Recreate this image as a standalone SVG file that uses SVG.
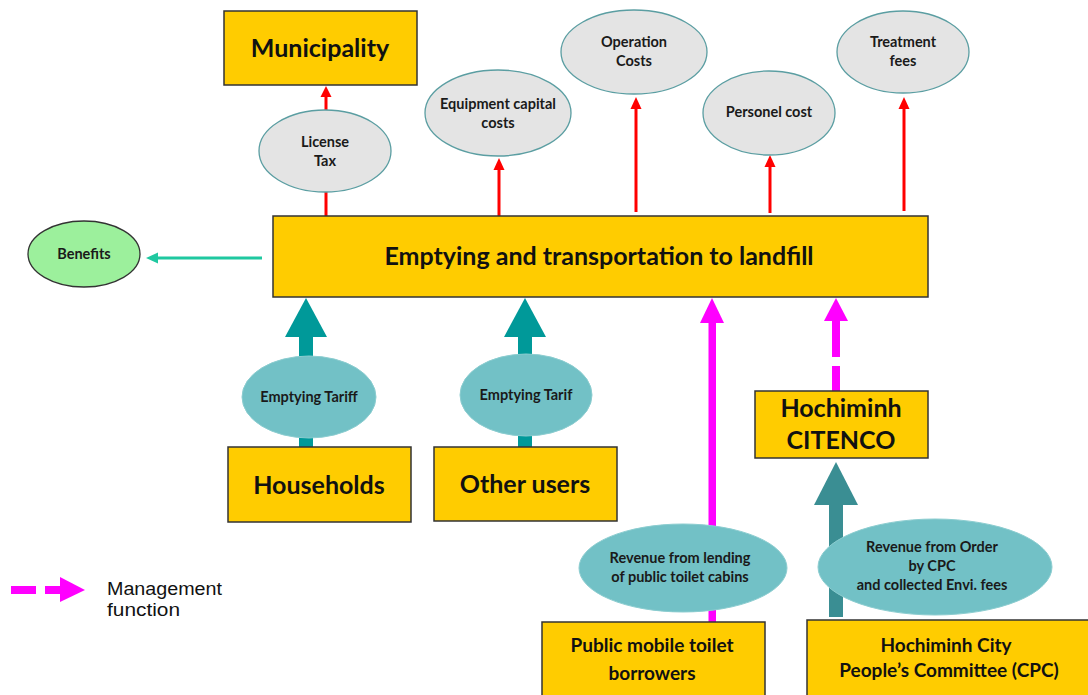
<svg xmlns="http://www.w3.org/2000/svg" width="1088" height="695" viewBox="0 0 1088 695">
  <style>
    .box { fill: #FFCC00; stroke: #333333; stroke-width: 1.5; }
    .cost { fill: #E4E4E4; stroke: #5B9EA2; stroke-width: 1.3; }
    .tariff { fill: #72C1C6; stroke: #8CCDD0; stroke-width: 1; }
    .benefit { fill: #9CF09C; stroke: #333333; stroke-width: 1.3; }
    .big { font-family: Lato, "Open Sans", sans-serif; font-weight: bold; font-size: 25px; fill: #111111; text-anchor: middle; }
    .mid { font-family: Lato, "Open Sans", sans-serif; font-weight: bold; font-size: 19px; fill: #111111; text-anchor: middle; }
    .small { font-family: Lato, "Open Sans", sans-serif; font-weight: bold; font-size: 14.5px; fill: #1A1A1A; text-anchor: middle; }
    .red { stroke: #FF0000; stroke-width: 3; fill: none; }
    .redhead { fill: #FF0000; }
    .legend { font-family: "Liberation Sans", Arial, sans-serif; font-size: 17.5px; fill: #111111; }
  </style>

  <!-- connectors -->
  <g id="connectors">
    <!-- red cost flows -->
    <line class="red" x1="326" y1="216" x2="326" y2="192"/>
    <line class="red" x1="326" y1="110" x2="326" y2="96"/>
    <polygon class="redhead" points="326,86 320.5,97 331.5,97"/>
    <line class="red" x1="499" y1="216" x2="499" y2="169"/>
    <polygon class="redhead" points="499,158 493.5,170 504.5,170"/>
    <line class="red" x1="636" y1="212" x2="636" y2="108"/>
    <polygon class="redhead" points="636,97 630.5,109 641.5,109"/>
    <line class="red" x1="770" y1="213" x2="770" y2="166"/>
    <polygon class="redhead" points="770,155 764.5,167 775.5,167"/>
    <line class="red" x1="904" y1="211" x2="904" y2="108"/>
    <polygon class="redhead" points="904,97 898.5,109 909.5,109"/>

    <!-- benefits -->
    <line x1="262" y1="258" x2="156" y2="258" stroke="#1FC8A0" stroke-width="3"/>
    <polygon points="146,258 158,252.5 158,263.5" fill="#1FC8A0"/>

    <!-- tariff flows (thick teal arrows) -->
    <rect x="299" y="336" width="14" height="112" fill="#009999"/>
    <polygon points="306,298 285,337 327,337" fill="#009999"/>
    <rect x="518" y="336" width="14" height="112" fill="#009999"/>
    <polygon points="525,298 504,337 546,337" fill="#009999"/>

    <!-- public toilet revenue -->
    <rect x="708.5" y="322" width="7.5" height="301" fill="#FF00FF"/>
    <polygon points="712,298 700,323 724,323" fill="#FF00FF"/>

    <!-- management function (dashed) -->
    <polygon points="836,298 824,321 848,321" fill="#FF00FF"/>
    <rect x="832" y="320" width="8" height="37" fill="#FF00FF"/>
    <rect x="832" y="366" width="8" height="25" fill="#FF00FF"/>

    <!-- CPC order revenue -->
    <rect x="829" y="504" width="14" height="113" fill="#3A8E93"/>
    <polygon points="836,462 814,505 858,505" fill="#3A8E93"/>
  </g>

  <!-- nodes -->
  <g id="municipality">
    <rect class="box" x="224" y="11" width="193" height="74"/>
    <text class="big" x="320" y="57">Municipality</text>
  </g>
  <g id="license-tax">
    <ellipse class="cost" cx="325" cy="151" rx="66" ry="41"/>
    <text class="small" x="325" y="147">License</text>
    <text class="small" x="325" y="166">Tax</text>
  </g>
  <g id="equipment">
    <ellipse class="cost" cx="498" cy="113" rx="73" ry="43"/>
    <text class="small" x="498" y="109">Equipment capital</text>
    <text class="small" x="498" y="128">costs</text>
  </g>
  <g id="operation">
    <ellipse class="cost" cx="634" cy="52" rx="73" ry="42"/>
    <text class="small" x="634" y="47">Operation</text>
    <text class="small" x="634" y="66">Costs</text>
  </g>
  <g id="personel">
    <ellipse class="cost" cx="769" cy="113" rx="66" ry="42"/>
    <text class="small" x="769" y="117">Personel cost</text>
  </g>
  <g id="treatment">
    <ellipse class="cost" cx="903" cy="52" rx="66" ry="41"/>
    <text class="small" x="903" y="47">Treatment</text>
    <text class="small" x="903" y="66">fees</text>
  </g>
  <g id="benefits">
    <ellipse class="benefit" cx="84" cy="254" rx="56" ry="33"/>
    <text class="small" x="84" y="259">Benefits</text>
  </g>
  <g id="emptying">
    <rect class="box" x="273" y="216" width="655" height="81"/>
    <text class="big" x="599" y="265">Emptying and transportation to landfill</text>
  </g>
  <g id="tariff-households">
    <ellipse class="tariff" cx="309" cy="397" rx="67" ry="41"/>
    <text class="small" x="309" y="402">Emptying Tariff</text>
  </g>
  <g id="tariff-others">
    <ellipse class="tariff" cx="526" cy="395" rx="66" ry="41"/>
    <text class="small" x="526" y="400">Emptying Tarif</text>
  </g>
  <g id="households">
    <rect class="box" x="228" y="447" width="183" height="75"/>
    <text class="big" x="319" y="494">Households</text>
  </g>
  <g id="other-users">
    <rect class="box" x="434" y="447" width="183" height="74"/>
    <text class="big" x="525" y="493">Other users</text>
  </g>
  <g id="citenco">
    <rect class="box" x="755" y="391" width="173" height="67"/>
    <text class="big" x="841" y="417">Hochiminh</text>
    <text class="big" x="841" y="449">CITENCO</text>
  </g>
  <g id="revenue-lending">
    <ellipse class="tariff" cx="683" cy="568" rx="104" ry="44"/>
    <text class="small" x="680" y="563">Revenue from lending</text>
    <text class="small" x="680" y="582">of public  toilet cabins</text>
  </g>
  <g id="revenue-order">
    <ellipse class="tariff" cx="935" cy="567" rx="117" ry="48"/>
    <text class="small" x="932" y="552">Revenue from Order</text>
    <text class="small" x="932" y="571">by CPC</text>
    <text class="small" x="932" y="590">and collected  Envi.  fees</text>
  </g>
  <g id="toilet-borrowers">
    <rect class="box" x="542" y="622" width="223" height="80"/>
    <text class="mid" x="652" y="652" font-size="21">Public mobile toilet</text>
    <text class="mid" x="652" y="680" font-size="21">borrowers</text>
  </g>
  <g id="cpc">
    <rect class="box" x="807" y="620" width="290" height="82"/>
    <text class="mid" x="946" y="652">Hochiminh City</text>
    <text class="mid" x="949" y="677">People’s Committee (CPC)</text>
  </g>

  <!-- legend -->
  <g id="legend">
    <rect x="11" y="586" width="25" height="8" fill="#FF00FF"/>
    <rect x="45" y="586" width="17" height="8" fill="#FF00FF"/>
    <polygon points="60,577 85,590 60,602" fill="#FF00FF"/>
    <text class="legend" x="107" y="595" textLength="115" lengthAdjust="spacingAndGlyphs">Management</text>
    <text class="legend" x="107" y="616" textLength="73" lengthAdjust="spacingAndGlyphs">function</text>
  </g>
</svg>
